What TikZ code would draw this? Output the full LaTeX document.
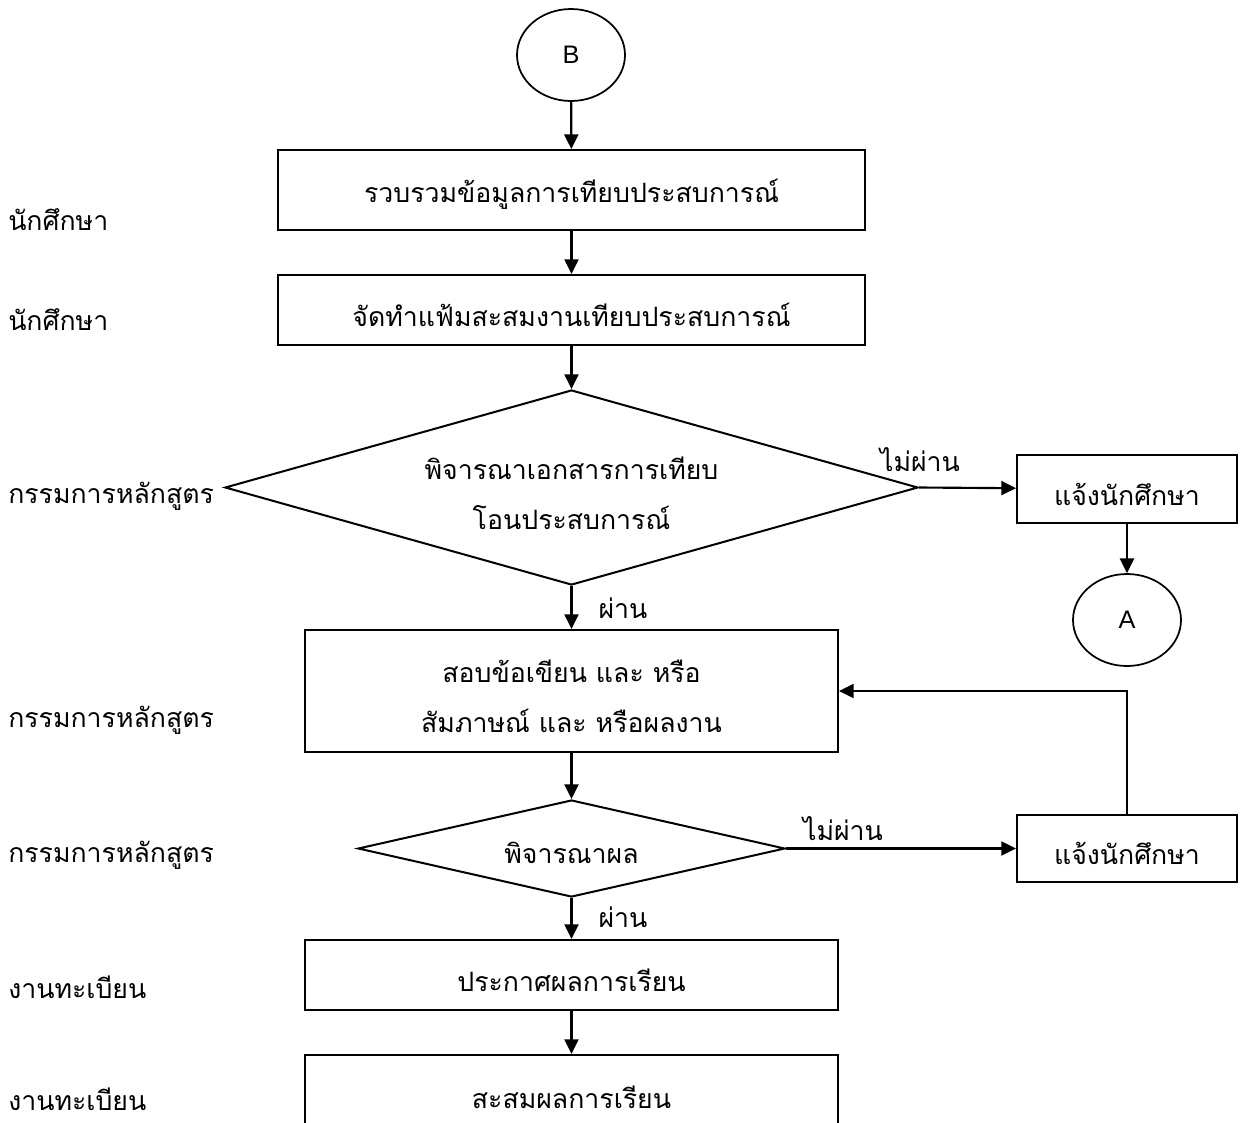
\documentclass[tikz,border=0pt]{standalone}
\usepackage{fontspec}
\setmainfont{Loma}[Script=Thai]
\newfontfamily\latinsans{Liberation Sans}
\usetikzlibrary{shapes.geometric,arrows.meta}
\begin{document}
\begin{tikzpicture}[x=0.75pt,y=-0.75pt,
  every node/.style={font=\fontsize{20pt}{37.5pt}\selectfont},
  procbox/.style={draw,line width=1.5pt,rectangle,inner sep=0pt,align=center},
  decision/.style={draw,line width=1.5pt,diamond,inner sep=0pt},
  connector/.style={draw,line width=1.3pt,ellipse,inner sep=0pt,minimum width=81pt,minimum height=69pt,font=\latinsans\fontsize{19pt}{21pt}\selectfont},
  flow/.style={line width=1.6pt,-{Triangle[length=11pt,width=10.5pt]}},
  lane/.style={anchor=west,inner sep=0pt}]
\useasboundingbox (0,0) rectangle (1243,1122);
\clip (0,0) rectangle (1243,1122);
% connectors
\node[connector] (B) at (571,55) {B};
\node[connector] (A) at (1127,620) {A};
% boxes
\node[procbox,minimum width=440.25pt,minimum height=60pt] (box1) at (571.5,190) {};
\node (box1t) at (571.5,194) {รวบรวมข้อมูลการเทียบประสบการณ์};
\node[procbox,minimum width=440.25pt,minimum height=52.5pt] (box2) at (571.5,310) {};
\node (box2t) at (571.5,315) {จัดทำแฟ้มสะสมงานเทียบประสบการณ์};
\node[decision,minimum width=519.75pt,minimum height=146.25pt] (dec1) at (571.5,487.5) {};
\node[align=center] (dec1t) at (571.5,493) {พิจารณาเอกสารการเทียบ\\โอนประสบการณ์};
\node[procbox,minimum width=399.75pt,minimum height=91.5pt] (box3) at (571.5,691) {};
\node[align=center] (box3t) at (571.5,696) {สอบข้อเขียน และ หรือ\\สัมภาษณ์ และ หรือผลงาน};
\node[decision,minimum width=320.25pt,minimum height=72.75pt] (dec2) at (571.5,848.5) {};
\node (dec2t) at (571.5,853) {พิจารณาผล};
\node[procbox,minimum width=399.75pt,minimum height=52.5pt] (box4) at (571.5,975) {};
\node (box4t) at (571.5,980) {ประกาศผลการเรียน};
\node[procbox,minimum width=399.75pt,minimum height=67.5pt] (box5) at (571.5,1100) {};
\node (box5t) at (571.5,1097) {สะสมผลการเรียน};
\node[procbox,minimum width=165pt,minimum height=51pt] (side1) at (1127,489) {};
\node (side1t) at (1127,494) {แจ้งนักศึกษา};
\node[procbox,minimum width=165pt,minimum height=50.25pt] (side2) at (1127,848.5) {};
\node (side2t) at (1127,853) {แจ้งนักศึกษา};
% flows
\draw[flow] (B) -- (box1);
\draw[flow] (box1) -- (box2);
\draw[flow] (box2) -- (dec1.north);
\draw[flow] (dec1.south) -- (box3);
\draw[flow] (dec1.east) -- (side1);
\draw[flow] (side1) -- (A);
\draw[flow] (box3) -- (dec2.north);
\draw[flow] (dec2.east) -- (side2);
\draw[flow] (side2.north) |- (box3.east);
\draw[flow] (dec2.south) -- (box4);
\draw[flow] (box4) -- (box5.north);
% edge labels
\node (no1) at (920,460) {ไม่ผ่าน};
\node (yes1) at (623,608) {ผ่าน};
\node (no2) at (843,829) {ไม่ผ่าน};
\node (yes2) at (623,917) {ผ่าน};
% lanes
\node[lane] (l1) at (8,220) {นักศึกษา};
\node[lane] (l2) at (8,320) {นักศึกษา};
\node[lane] (l3) at (8,496) {กรรมการหลักสูตร};
\node[lane] (l4) at (8,720) {กรรมการหลักสูตร};
\node[lane] (l5) at (8,855) {กรรมการหลักสูตร};
\node[lane] (l6) at (8,987) {งานทะเบียน};
\node[lane] (l7) at (8,1099) {งานทะเบียน};
\end{tikzpicture}
\end{document}
